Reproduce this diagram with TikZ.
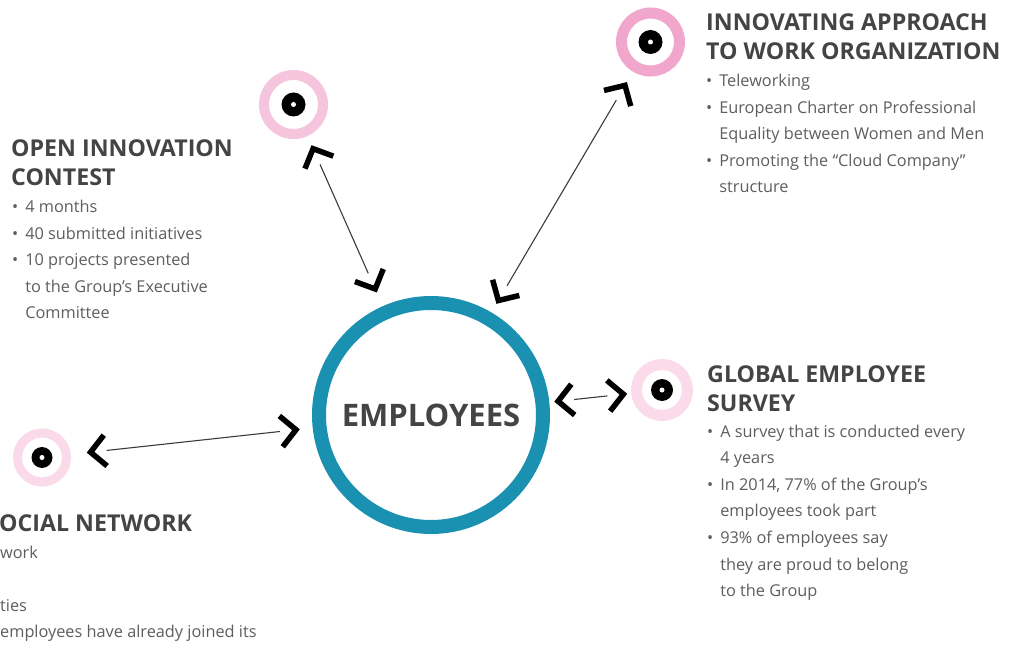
\documentclass[tikz,border=0pt]{standalone}
\usepackage{fontspec}
\setmainfont{Open Sans}
\usetikzlibrary{arrows.meta}

\definecolor{empblue}{HTML}{1A91B0}
\definecolor{pinkA}{HTML}{F5C4DD}
\definecolor{pinkB}{HTML}{F0A7CB}
\definecolor{pinkC}{HTML}{FBDBEA}
\definecolor{pinkD}{HTML}{FAD9E8}
\definecolor{headgray}{HTML}{444444}
\definecolor{itemgray}{HTML}{5E5E5E}
\definecolor{linegray}{HTML}{3C3C3C}

\newcommand{\bul}{•\hspace{7pt}}
\newcommand{\indnt}{\hphantom{•}\hspace{7pt}}

% multi-line nodes sit on the baseline of their last line
\tikzset{
  ring/.style n args={3}{circle, draw=#1, line width=#2, minimum size=#3, inner sep=0pt},
  title/.style={anchor=base west, align=left, inner sep=0pt, text=headgray,
    font=\bfseries\fontsize{23.2}{28.5}\selectfont},
  items/.style={anchor=base west, align=left, inner sep=0pt, text=itemgray,
    font=\fontsize{16.3}{26.6}\selectfont},
  chev/.tip={Straight Barb[length=15pt, width=31pt, line width=5.5pt, color=black]},
  chevs/.style={draw=white, line width=0.2pt, chev-chev},
  wire/.style={draw=linegray, line width=1.1pt},
}

\begin{document}
\begin{tikzpicture}[x=1pt, y=-1pt]
  \useasboundingbox[fill=white] (0,0) rectangle (1022,668);

  % centre
  \node[ring={empblue}{14pt}{224pt}, text=headgray,
    font=\bfseries\fontsize{31}{36}\selectfont] (emp) at (431,415) {EMPLOYEES};

  % targets
  \node[ring={pinkA}{10pt}{59pt}] (oic) at (293.5,104.5) {};
  \node[ring={pinkB}{11pt}{58pt}] (iaw) at (650.5,42) {};
  \node[ring={pinkC}{11pt}{51pt}] (ges) at (662,390) {};
  \node[ring={pinkD}{9pt}{49pt}] (sn) at (42,457.5) {};
  \foreach \n/\r in {oic/12, iaw/12, ges/11, sn/10.5} {
    \fill[black] (\n) circle (\r pt);
    \fill[white] (\n) circle (2.5pt);
  }

  % links: chevrons first, then the thin wire with a gap
  \draw[chevs, shorten <=10pt, shorten >=15pt] (oic) -- (emp);
  \draw[wire, shorten <=31pt, shorten >=36pt] (oic) -- (emp);
  \draw[chevs, shorten <=12pt, shorten >=10pt] (iaw) -- (emp);
  \draw[wire, shorten <=33pt, shorten >=31pt] (iaw) -- (emp);
  \draw[chevs, shorten <=4pt, shorten >=5pt] (ges) -- (emp);
  \draw[wire, shorten <=24pt, shorten >=25pt] (ges) -- (emp);
  \draw[chevs, shorten <=16pt, shorten >=13pt] (sn) -- (emp);
  \draw[wire, shorten <=36pt, shorten >=33pt] (sn) -- (emp);

  % texts
  \node[title] (oict) at (11,185.5) {OPEN INNOVATION\\CONTEST};
  \node[items] (oici) at (12,318.9) {\bul 4 months\\ \bul 40 submitted initiatives\\
    \bul 10 projects presented\\ \indnt to the Group’s Executive\\ \indnt Committee};

  \node[title] (iawt) at (706,59.5) {INNOVATING APPROACH\\TO WORK ORGANIZATION};
  \node[items] (iawi) at (706,192.9) {\bul Teleworking\\ \bul European Charter on Professional\\
    \indnt Equality between Women and Men\\ \bul Promoting the “Cloud Company”\\ \indnt structure};

  \node[title] (gest) at (707,411) {GLOBAL EMPLOYEE\\SURVEY};
  \node[items] (gesi) at (707,596.6) {\bul A survey that is conducted every\\ \indnt 4 years\\
    \bul In 2014, 77\% of the Group’s\\ \indnt employees took part\\ \bul 93\% of employees say\\
    \indnt they are proud to belong\\ \indnt to the Group};

  \node[title] (snt) at (-1,531) {OCIAL NETWORK};
  \node[items] (sni) at (0,637.8) {work\\ \strut\\ ties\\ employees have already joined its};
\end{tikzpicture}
\end{document}
